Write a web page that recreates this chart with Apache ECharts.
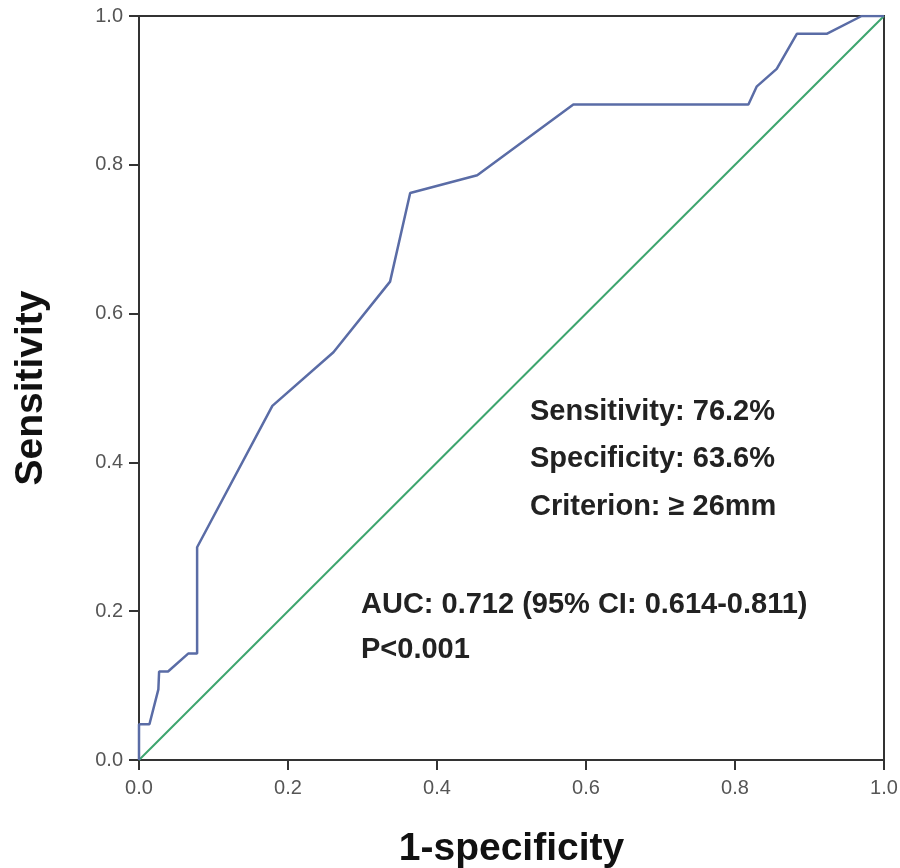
<!DOCTYPE html>
<html>
<head>
<meta charset="utf-8">
<script src="https://cdn.jsdelivr.net/npm/echarts@6/dist/echarts.min.js"></script>
<style>
  html, body { margin: 0; padding: 0; background: #fff; }
</style>
</head>
<body>
<div id="myChart" style="width: 900px; height: 868px;"></div>
<script>
  // ROC curve points: [1-specificity, sensitivity]
  var rocX = [0, 0, 0.014, 0.026, 0.027, 0.039, 0.066, 0.078, 0.078, 0.179, 0.261, 0.337, 0.364, 0.454, 0.583, 0.818, 0.829, 0.856, 0.883, 0.923, 0.970, 1];
  var rocY = [0, 0.048, 0.048, 0.095, 0.119, 0.119, 0.143, 0.143, 0.286, 0.476, 0.548, 0.643, 0.762, 0.786, 0.881, 0.881, 0.905, 0.929, 0.976, 0.976, 1, 1];
  var refLine = [[0, 0], [1, 1]];
  var tickLabels = ['0.0', '0.2', '0.4', '0.6', '0.8', '1.0'];
  var notes = ['Sensitivity: 76.2%', 'Specificity: 63.6%', 'Criterion: \u2265 26mm'];
  var stats = ['AUC: 0.712 (95% CI: 0.614-0.811)', 'P<0.001'];

  var rocData = [];
  for (var i = 0; i < rocX.length; i++) {
    rocData.push([rocX[i], rocY[i]]);
  }

  var font = 'Liberation Sans, Arial, sans-serif';
  var tick = function (v) { return tickLabels[Math.round(v * 5)]; };
  var txt = 'bold 29px ' + font;

  var option = {
    backgroundColor: '#fff',
    animation: false,
    grid: {
      left: 139, right: 16, top: 16, bottom: 108,
      outerBoundsMode: 'none', containLabel: false,
      show: true, borderColor: '#333', borderWidth: 2
    },
    xAxis: {
      type: 'value', min: 0, max: 1, interval: 0.2,
      name: '1-specificity', nameLocation: 'middle', nameGap: 70,
      nameTextStyle: { fontSize: 39, fontWeight: 'bold', color: '#111', fontFamily: font },
      axisLine: { lineStyle: { color: '#333', width: 2 } },
      axisTick: { length: 10, lineStyle: { color: '#333', width: 2 } },
      axisLabel: { formatter: tick, fontSize: 20, color: '#555', margin: 18, fontFamily: font },
      splitLine: { show: false }
    },
    yAxis: {
      type: 'value', min: 0, max: 1, interval: 0.2,
      name: 'Sensitivity', nameLocation: 'middle', nameGap: 88,
      nameTextStyle: { fontSize: 39, fontWeight: 'bold', color: '#111', fontFamily: font },
      axisLine: { lineStyle: { color: '#333', width: 2 } },
      axisTick: { length: 10, lineStyle: { color: '#333', width: 2 } },
      axisLabel: { formatter: tick, fontSize: 20, color: '#555', margin: 16, fontFamily: font },
      splitLine: { show: false }
    },
    series: [
      {
        name: 'reference', type: 'line', data: refLine,
        symbol: 'none', lineStyle: { color: '#3da56e', width: 2 }
      },
      {
        name: 'ROC', type: 'line', data: rocData,
        symbol: 'none', lineStyle: { color: '#5a6ca6', width: 2.5 }
      }
    ],
    graphic: [
      { type: 'text', left: 530, top: 397, style: { text: notes[0], font: txt, fill: '#222' } },
      { type: 'text', left: 530, top: 444, style: { text: notes[1], font: txt, fill: '#222' } },
      { type: 'text', left: 530, top: 492, style: { text: notes[2], font: txt, fill: '#222' } },
      { type: 'text', left: 361, top: 590, style: { text: stats[0], font: txt, fill: '#222' } },
      { type: 'text', left: 361, top: 635, style: { text: stats[1], font: txt, fill: '#222' } }
    ]
  };

  var myChart = echarts.init(document.getElementById('myChart'));
  myChart.setOption(option);
</script>
</body>
</html>
